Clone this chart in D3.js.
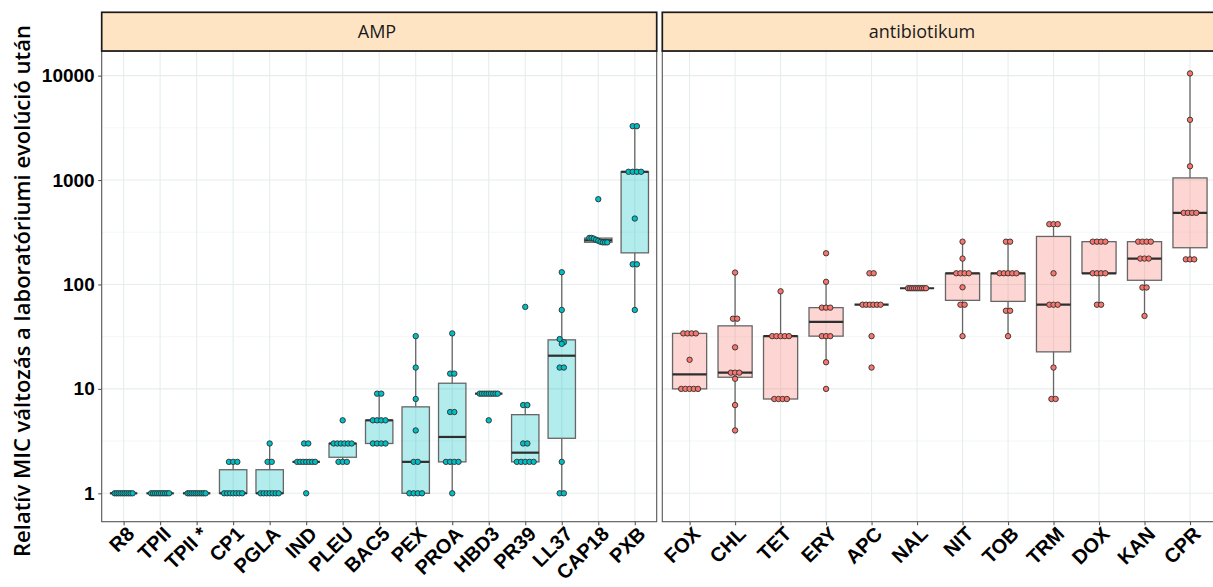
<!DOCTYPE html>
<html>
<head>
<meta charset="utf-8">
<script src="https://cdn.jsdelivr.net/npm/d3@7"></script>
<style>
  body { margin: 0; background: #ffffff; }
  svg { display: block; }
</style>
</head>
<body>
<svg id="chart" width="1213" height="587"></svg>
<script>
// Relative MIC fold change after laboratory evolution, per compound
const facetLabels = ["AMP", "antibiotikum"];

const ampCategories = ["R8", "TPII", "TPII *", "CP1", "PGLA", "IND", "PLEU", "BAC5",
  "PEX", "PROA", "HBD3", "PR39", "LL37", "CAP18", "PXB"];
const ampValues = [
  [1, 1, 1, 1, 1, 1, 1, 1, 1, 1],
  [1, 1, 1, 1, 1, 1, 1, 1, 1, 1],
  [1, 1, 1, 1, 1, 1, 1, 1, 1, 1],
  [1, 1, 1, 1, 1, 1, 1, 2, 2, 2],
  [1, 1, 1, 1, 1, 1, 1, 2, 2, 3],
  [1, 2, 2, 2, 2, 2, 2, 2, 3, 3],
  [2, 2, 2, 3, 3, 3, 3, 3, 3, 5],
  [3, 3, 3, 3, 5, 5, 5, 5, 9, 9],
  [1, 1, 1, 1, 2, 2, 4, 8, 16, 32],
  [1, 2, 2, 2, 2, 6, 6, 14, 14, 34],
  [5, 9, 9, 9, 9, 9, 9, 9, 9, 9],
  [2, 2, 2, 2, 2, 3, 3, 7, 7, 61],
  [1, 1, 2, 16, 16, 27, 28, 30, 57, 131],
  [253, 253, 253, 256, 262, 268, 275, 279, 279, 656],
  [57, 156, 156, 428, 1200, 1200, 1200, 1200, 3283, 3283]
];

const abCategories = ["FOX", "CHL", "TET", "ERY", "APC", "NAL", "NIT", "TOB", "TRM",
  "DOX", "KAN", "CPR"];
const abValues = [
  [10, 10, 10, 10, 10, 19, 34, 34, 34, 34],
  [4, 7, 12.5, 14.3, 14.3, 14.3, 25, 47, 47, 130],
  [8, 8, 8, 8, 32, 32, 32, 32, 32, 86],
  [10, 18, 32, 32, 32, 60, 60, 60, 106, 199],
  [16, 32, 64, 64, 64, 64, 64, 64, 128, 128],
  [92, 92, 92, 92, 92, 92, 92, 92, 92, 92],
  [32, 64, 64, 94, 128, 128, 128, 128, 177, 257],
  [32, 56, 56, 128, 128, 128, 128, 128, 257, 257],
  [8, 8, 16, 64, 64, 64, 128, 378, 378, 378],
  [64, 64, 128, 128, 128, 128, 257, 257, 257, 257],
  [50, 93.5, 93.5, 177, 177, 177, 257, 257, 257, 257],
  [174, 174, 174, 485, 485, 485, 485, 1355, 3776, 10500]
];

const yTicks = [1, 10, 100, 1000, 10000];
const yMinorTicks = [3.1623, 31.623, 316.23, 3162.3];
const yTitle = "Relatív MIC változás a laboratóriumi evolúció után";

// ---- layout ----
const stripTop = 12.3, panelTop = 51, panelBottom = 521.7;
const panels = [
  { x0: 101.7, x1: 656.7, cats: ampCategories, vals: ampValues, color: "#00BFC4",
    label: facetLabels[0], labelX: 377 },
  { x0: 662.3, x1: 1217.3, cats: abCategories, vals: abValues, color: "#F8766D",
    label: facetLabels[1], labelX: 922 }
];

const svg = d3.select("#chart");
svg.append("rect").attr("width", 1213).attr("height", 587).attr("fill", "#ffffff");

const y = d3.scaleLog()
  .domain([Math.pow(10, -0.272), Math.pow(10, 4.236)])
  .range([panelBottom, panelTop]);

// boxplot statistics on the log10 scale (R type-7 quantiles)
function boxStats(vals) {
  const l = vals.map(Math.log10).sort(d3.ascending);
  const q1 = d3.quantileSorted(l, 0.25);
  const med = d3.quantileSorted(l, 0.5);
  const q3 = d3.quantileSorted(l, 0.75);
  const iqr = q3 - q1;
  const lo = d3.min(l.filter(v => v >= q1 - 1.5 * iqr));
  const hi = d3.max(l.filter(v => v <= q3 + 1.5 * iqr));
  const p = v => Math.pow(10, v);
  return { q1: p(q1), med: p(med), q3: p(q3), lo: p(lo), hi: p(hi) };
}

// spread points that sit at (almost) the same height side by side
function placePoints(vals, cx) {
  const pts = vals.map(v => ({ v, py: y(v) })).sort((a, b) => a.py - b.py);
  const groups = [];
  pts.forEach(p => {
    const g = groups[groups.length - 1];
    if (g && p.py - g[0].py < 4.5) g.push(p); else groups.push([p]);
  });
  groups.forEach(g => {
    const m = g.length;
    const s = m > 1 ? Math.min(4.2, 18 / (m - 1)) : 0;
    g.forEach((p, k) => { p.px = cx + (k - (m - 1) / 2) * s; });
  });
  return pts;
}

const gridMajor = "#E6EDED", gridMinor = "#EFF3F3";

panels.forEach(pn => {
  const x = d3.scalePoint().domain(pn.cats).range([pn.x0, pn.x1]).padding(0.6);
  const g = svg.append("g");
  const bw = x.step() * 0.75;

  g.append("rect").attr("x", pn.x0).attr("y", panelTop)
    .attr("width", pn.x1 - pn.x0).attr("height", panelBottom - panelTop).attr("fill", "#fff");

  // grid
  g.selectAll(".minor").data(yMinorTicks).join("line")
    .attr("x1", pn.x0).attr("x2", pn.x1)
    .attr("y1", d => y(d)).attr("y2", d => y(d))
    .attr("stroke", gridMinor).attr("stroke-width", 0.7);
  g.selectAll(".major").data(yTicks).join("line")
    .attr("x1", pn.x0).attr("x2", pn.x1)
    .attr("y1", d => y(d)).attr("y2", d => y(d))
    .attr("stroke", gridMajor).attr("stroke-width", 1.1);
  g.selectAll(".vgrid").data(pn.cats).join("line")
    .attr("x1", d => x(d)).attr("x2", d => x(d))
    .attr("y1", panelTop).attr("y2", panelBottom)
    .attr("stroke", gridMajor).attr("stroke-width", 1.1);

  // boxes
  pn.cats.forEach((c, i) => {
    const st = boxStats(pn.vals[i]);
    const cx = x(c);
    const bg = g.append("g");
    bg.append("line").attr("x1", cx).attr("x2", cx)
      .attr("y1", y(st.q3)).attr("y2", y(st.hi))
      .attr("stroke", "#666666").attr("stroke-width", 1.3);
    bg.append("line").attr("x1", cx).attr("x2", cx)
      .attr("y1", y(st.q1)).attr("y2", y(st.lo))
      .attr("stroke", "#666666").attr("stroke-width", 1.3);
    bg.append("rect")
      .attr("x", cx - bw / 2).attr("width", bw)
      .attr("y", y(st.q3)).attr("height", Math.max(0, y(st.q1) - y(st.q3)))
      .attr("fill", pn.color).attr("fill-opacity", 0.3)
      .attr("stroke", "#666666").attr("stroke-width", 1.3);
    bg.append("line").attr("x1", cx - bw / 2).attr("x2", cx + bw / 2)
      .attr("y1", y(st.med)).attr("y2", y(st.med))
      .attr("stroke", "#2e2e2e").attr("stroke-width", 2.2);
  });

  // points
  pn.cats.forEach((c, i) => {
    const pts = placePoints(pn.vals[i], x(c));
    g.selectAll(null).data(pts).join("circle")
      .attr("cx", d => d.px).attr("cy", d => d.py).attr("r", 2.7)
      .attr("fill", pn.color).attr("stroke", "#2f2f2f").attr("stroke-width", 0.9);
  });

  // panel border
  g.append("rect").attr("x", pn.x0).attr("y", panelTop)
    .attr("width", pn.x1 - pn.x0).attr("height", panelBottom - panelTop)
    .attr("fill", "none").attr("stroke", "#555555").attr("stroke-width", 1.1);

  // strip
  g.append("rect").attr("x", pn.x0).attr("y", stripTop)
    .attr("width", pn.x1 - pn.x0).attr("height", panelTop - stripTop)
    .attr("fill", "#FFE4C4").attr("stroke", "#1a1a1a").attr("stroke-width", 1.7);
  g.append("text")
    .attr("x", pn.labelX)
    .attr("y", (stripTop + panelTop) / 2)
    .attr("dy", "0.36em").attr("text-anchor", "middle")
    .attr("font-family", "'Open Sans', 'Noto Sans', sans-serif")
    .attr("font-size", 18).attr("fill", "#1a1a1a")
    .text(pn.label);

  // bottom axis
  const xAxis = d3.axisBottom(x).tickSize(3.5).tickPadding(3);
  const ax = svg.append("g").attr("transform", `translate(0,${panelBottom})`).call(xAxis);
  ax.select(".domain").remove();
  ax.selectAll(".tick line").attr("stroke", "#555555").attr("stroke-width", 1.1);
  ax.selectAll(".tick text")
    .attr("font-family", "'Liberation Sans', Arial, sans-serif")
    .attr("font-weight", "bold").attr("font-size", 20).attr("fill", "#000")
    .attr("text-anchor", "end")
    .attr("y", 0).attr("dy", 0)
    .attr("transform", "translate(11.5,13.5) rotate(-45)");
});

// left axis
const yAxis = d3.axisLeft(y).tickValues(yTicks).tickFormat(d3.format("d")).tickSize(3.5).tickPadding(3.5);
const ay = svg.append("g").attr("transform", `translate(${panels[0].x0},0)`).call(yAxis);
ay.select(".domain").remove();
ay.selectAll(".tick line").attr("stroke", "#555555").attr("stroke-width", 1.1);
ay.selectAll(".tick text")
  .attr("font-family", "'Liberation Sans', Arial, sans-serif")
  .attr("font-weight", "bold").attr("font-size", 19).attr("fill", "#000");

// y axis title
svg.append("text")
  .attr("transform", "translate(30,291) rotate(-90)")
  .attr("text-anchor", "middle")
  .attr("font-family", "'Open Sans', 'Noto Sans', sans-serif")
  .attr("font-weight", 600).attr("font-size", 22).attr("fill", "#000")
  .text(yTitle);
</script>
</body>
</html>
